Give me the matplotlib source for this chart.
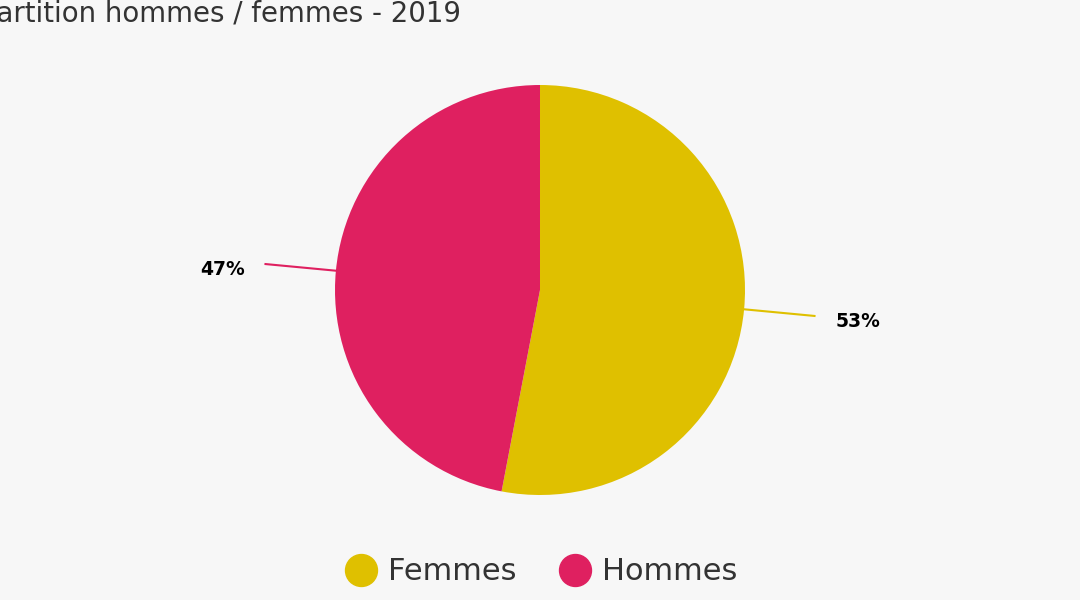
import matplotlib
matplotlib.use("Agg")
import matplotlib.pyplot as plt
from matplotlib.lines import Line2D
import numpy as np

title = "Répartition hommes / femmes - 2019"
categories = ["Femmes", "Hommes"]
values = [53, 47]
labels = ["53%", "47%"]
colors = ["#dfc000", "#df2060"]

W, H = 1080, 600
fig = plt.figure(figsize=(W/100, H/100), dpi=100)
bg = "#f7f7f7"
fig.patch.set_facecolor(bg)

cx, cy, R = 540, 290, 205
ax = fig.add_axes([(cx-R)/W, (H-cy-R)/H, 2*R/W, 2*R/H])
ax.set_facecolor(bg)
wedges, _ = ax.pie(values, colors=colors, startangle=90, counterclock=False,
                   radius=1, wedgeprops=dict(linewidth=0))
ax.set_xlim(-1, 1)
ax.set_ylim(-1, 1)
ax.set_aspect("equal")
ax.axis("off")

for w, lab, col in zip(wedges, labels, colors):
    ang = np.deg2rad((w.theta1 + w.theta2) / 2)
    c, s = np.cos(ang), np.sin(ang)
    x0, y0 = c * 1.0, s * 1.0
    x1, y1 = c * 1.345, s * 1.345
    ax.plot([x0, x1], [y0, y1], color=col, lw=1.5, clip_on=False)
    side = 1 if c > 0 else -1
    ax.text(side * 1.44, y1 - 0.025, lab,
            ha="left" if side > 0 else "right", va="center",
            fontsize=13.5, fontweight="bold", color="black", clip_on=False)

fig.text(461/W, 1 - 13/H, title, ha="right", va="center",
         fontsize=19.9, color="#333333")

handles = [Line2D([], [], marker="o", linestyle="none", markersize=23,
                  markerfacecolor=c, markeredgecolor=c) for c in colors]
leg = fig.legend(handles, categories, loc="center", bbox_to_anchor=(0.5, 1 - 572/H),
                 ncol=2, frameon=False, fontsize=22, handletextpad=0.3,
                 columnspacing=1.3, handlelength=1.2)
for t in leg.get_texts():
    t.set_color("#333333")

fig.savefig("out.png", dpi=100, facecolor=bg)
